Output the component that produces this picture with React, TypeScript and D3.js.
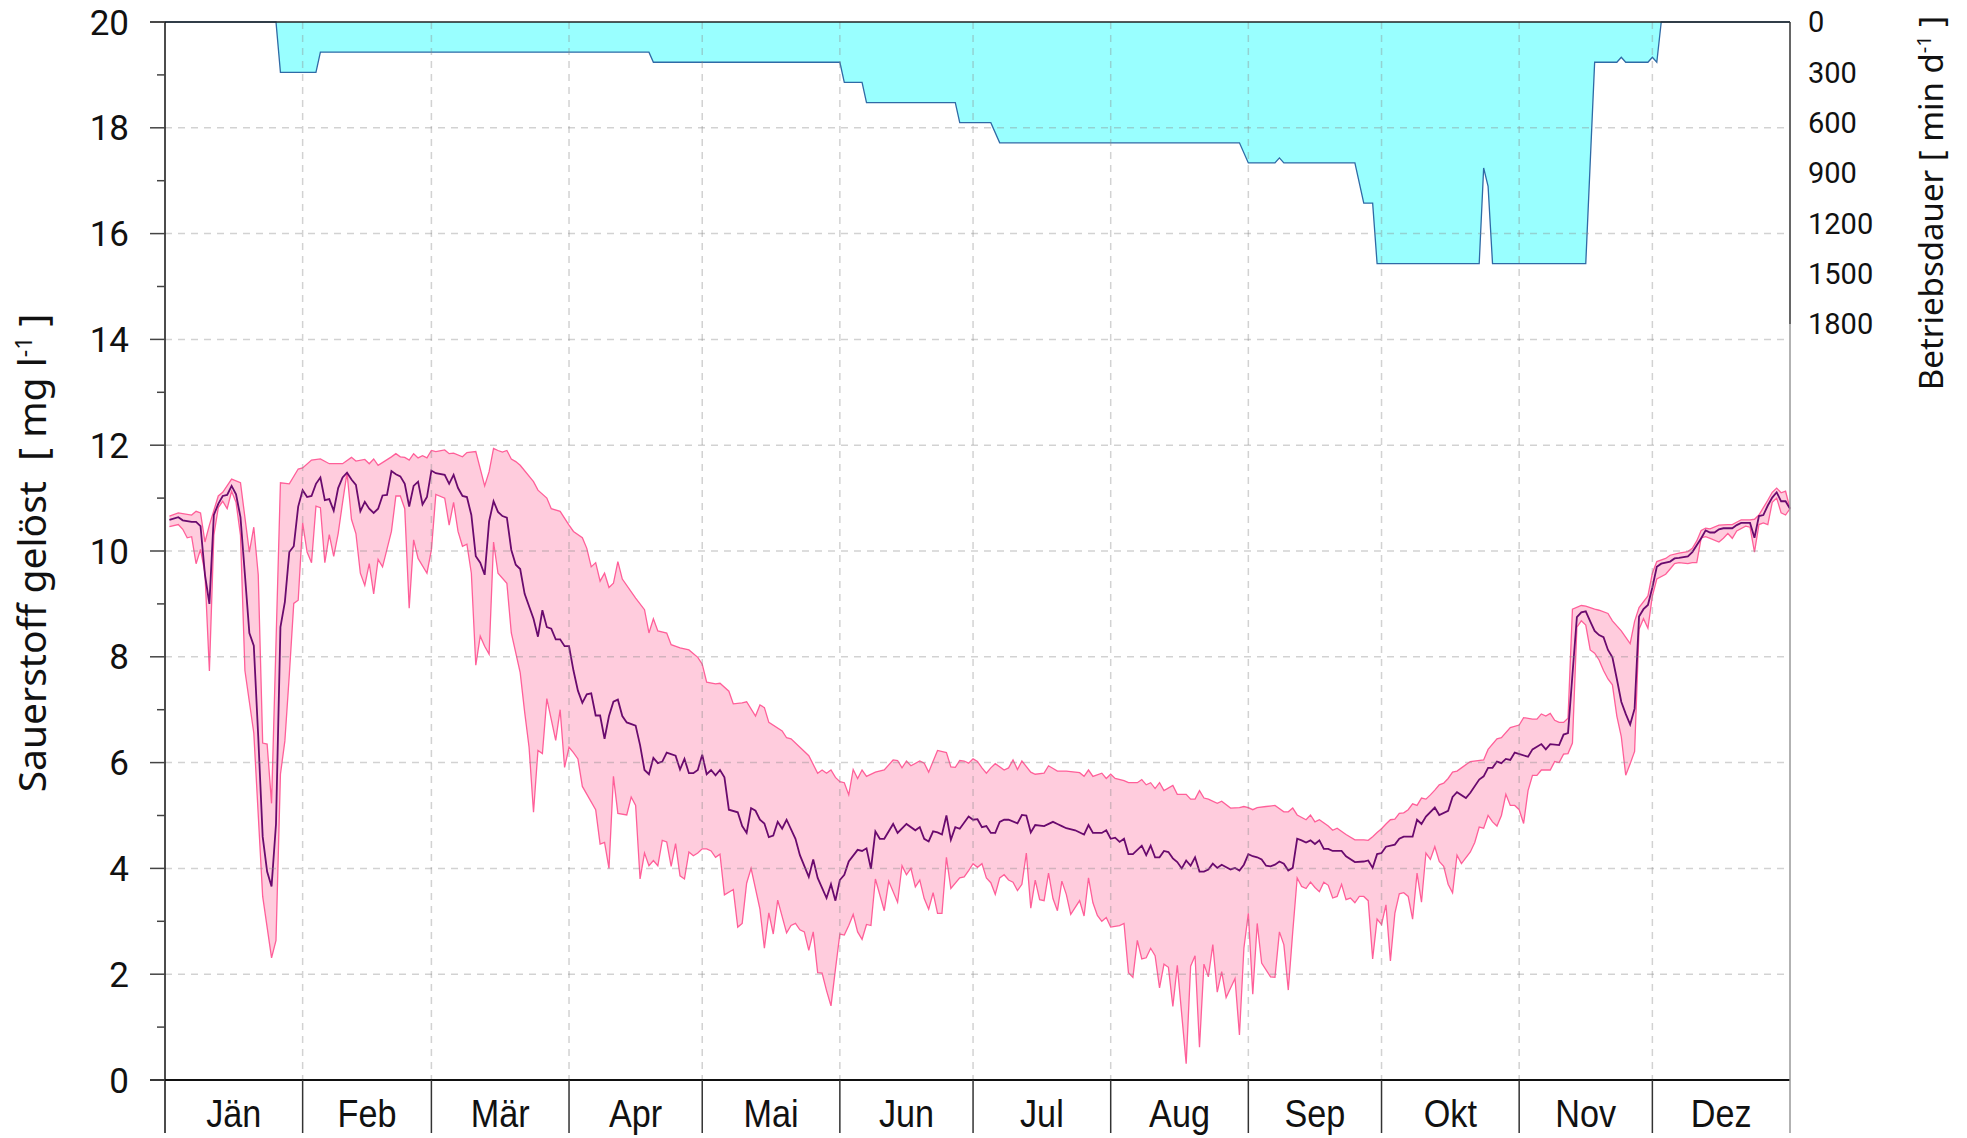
import React from 'react';
import * as d3 from 'd3';

// day of year (1..366), dissolved oxygen in mg/l
const oxygenMax: [number, number][] = [
  [1,10.66],[3,10.72],[6,10.68],[7,10.75],[8,10.72],[9,10.17],[10,10.49],[12,11.04],[13,11.11],[15,11.36],[17,11.29],[19,9.98],[20,10.45],[21,9.55],[22,6.37],[23,6.35],[24,5.23],[26,11.29],[28,11.27],[30,11.55],[31,11.57],[33,11.72],[35,11.74],[37,11.65],[40,11.65],[42,11.77],[43,11.7],[45,11.73],[46,11.65],[47,11.74],[48,11.62],[51,11.78],[52,11.84],[53,11.78],[54,11.77],[55,11.72],[56,11.84],[57,11.76],[58,11.8],[59,11.76],[60,11.9],[61,11.88],[63,11.91],[64,11.84],[65,11.85],[67,11.78],[68,11.86],[70,11.88],[72,11.23],[73,11.5],[74,11.94],[75,11.9],[76,11.87],[77,11.9],[78,11.74],[79,11.69],[80,11.62],[83,11.31],[84,11.15],[86,11.0],[87,10.8],[89,10.75],[91,10.49],[92,10.37],[94,10.25],[95,10.05],[96,9.7],[97,9.78],[98,9.43],[99,9.58],[100,9.31],[101,9.39],[102,9.8],[103,9.47],[106,9.11],[108,8.89],[109,8.45],[110,8.72],[111,8.49],[113,8.45],[114,8.23],[116,8.17],[118,8.13],[120,7.99],[121,7.86],[122,7.52],[124,7.49],[125,7.5],[127,7.35],[128,7.11],[130,7.13],[131,7.15],[133,6.88],[134,7.09],[135,7.04],[136,6.76],[139,6.6],[140,6.47],[141,6.45],[143,6.29],[145,6.13],[147,5.8],[148,5.86],[149,5.8],[150,5.86],[151,5.72],[152,5.64],[153,5.62],[154,5.39],[155,5.87],[156,5.7],[157,5.86],[158,5.74],[160,5.82],[162,5.86],[164,6.05],[165,6.04],[166,5.9],[167,6.03],[168,5.94],[170,6.03],[171,5.99],[172,5.82],[174,6.23],[176,6.19],[177,5.92],[178,5.91],[179,6.04],[180,6.03],[181,5.99],[182,6.07],[183,6.02],[184,5.9],[185,5.8],[186,5.9],[187,5.98],[189,5.86],[190,5.9],[191,6.05],[192,5.87],[193,6.03],[195,5.82],[196,5.78],[198,5.8],[199,5.94],[201,5.84],[203,5.84],[206,5.81],[207,5.74],[208,5.86],[209,5.74],[211,5.8],[212,5.7],[213,5.78],[214,5.7],[216,5.66],[217,5.62],[219,5.62],[220,5.68],[221,5.58],[222,5.62],[223,5.51],[224,5.62],[225,5.47],[227,5.57],[228,5.4],[230,5.4],[231,5.31],[232,5.31],[233,5.47],[234,5.33],[235,5.31],[237,5.23],[238,5.27],[240,5.14],[242,5.15],[243,5.17],[244,5.15],[245,5.11],[246,5.15],[248,5.17],[250,5.19],[252,5.07],[253,5.07],[254,5.14],[255,5.01],[257,4.92],[258,5.01],[259,4.88],[260,4.92],[262,4.8],[263,4.72],[264,4.76],[266,4.64],[268,4.54],[270,4.54],[271,4.53],[272,4.6],[273,4.68],[274,4.75],[275,4.84],[276,4.92],[277,4.93],[278,5.04],[279,5.05],[280,5.11],[281,5.22],[282,5.19],[283,5.33],[284,5.31],[285,5.39],[286,5.48],[287,5.58],[288,5.61],[289,5.7],[290,5.82],[291,5.84],[292,5.9],[294,6.02],[297,6.05],[298,6.25],[300,6.45],[301,6.47],[303,6.66],[305,6.71],[306,6.85],[308,6.82],[309,6.82],[310,6.92],[311,6.88],[312,6.93],[313,6.8],[314,6.76],[315,6.76],[316,6.84],[317,8.9],[319,8.97],[320,8.96],[322,8.9],[323,8.88],[325,8.82],[326,8.68],[328,8.49],[330,8.25],[331,8.67],[332,8.93],[334,9.15],[335,9.58],[336,9.8],[338,9.86],[339,9.92],[341,9.96],[343,9.99],[344,10.05],[345,10.19],[346,10.39],[347,10.43],[348,10.42],[350,10.49],[352,10.5],[353,10.5],[355,10.59],[357,10.59],[358,10.6],[359,10.68],[361,10.96],[362,11.11],[363,11.19],[364,11.1],[365,11.13],[366,10.8],
];

const oxygenMean: [number, number][] = [
  [1,10.59],[3,10.64],[4,10.58],[6,10.55],[7,10.55],[8,10.47],[9,9.55],[10,9.0],[11,10.68],[12,10.89],[13,11.04],[14,11.06],[15,11.23],[16,11.07],[17,10.64],[18,9.55],[19,8.45],[20,8.21],[21,6.49],[22,4.6],[23,3.94],[24,3.66],[25,4.84],[26,8.56],[27,9.04],[28,9.98],[29,10.09],[30,10.84],[31,11.15],[32,11.02],[33,11.04],[34,11.27],[35,11.39],[36,10.96],[37,10.98],[38,10.76],[39,11.19],[40,11.39],[41,11.48],[42,11.35],[43,11.25],[44,10.75],[45,10.93],[46,10.8],[47,10.72],[48,10.8],[49,11.05],[50,11.06],[51,11.51],[52,11.45],[53,11.41],[54,11.27],[55,10.84],[56,11.23],[57,11.31],[58,10.88],[59,11.02],[60,11.52],[61,11.47],[63,11.44],[64,11.27],[65,11.44],[66,11.19],[67,11.04],[68,11.02],[69,10.68],[70,9.9],[71,9.78],[72,9.55],[73,10.56],[74,10.94],[75,10.74],[76,10.66],[77,10.63],[78,10.02],[79,9.74],[80,9.66],[81,9.19],[83,8.72],[84,8.38],[85,8.88],[86,8.56],[87,8.53],[88,8.33],[89,8.33],[90,8.2],[91,8.2],[92,7.74],[93,7.36],[94,7.13],[95,7.29],[96,7.31],[97,6.89],[98,6.89],[99,6.45],[100,6.88],[101,7.15],[102,7.19],[103,6.88],[104,6.76],[106,6.7],[107,6.33],[108,5.86],[109,5.78],[110,6.09],[111,5.99],[112,6.02],[113,6.19],[115,6.13],[116,5.87],[117,6.07],[118,5.8],[119,5.8],[120,5.86],[121,6.15],[122,5.78],[123,5.86],[124,5.76],[125,5.86],[126,5.72],[127,5.11],[129,5.06],[130,4.8],[131,4.67],[132,5.14],[133,5.09],[134,4.92],[135,4.85],[136,4.59],[137,4.62],[138,4.88],[139,4.75],[140,4.92],[142,4.56],[143,4.25],[145,3.84],[146,4.17],[147,3.82],[149,3.44],[150,3.7],[151,3.39],[152,3.78],[153,3.88],[154,4.13],[156,4.35],[157,4.33],[158,4.38],[159,3.99],[160,4.7],[161,4.56],[162,4.56],[164,4.84],[165,4.67],[167,4.84],[169,4.72],[170,4.78],[171,4.56],[172,4.51],[173,4.7],[174,4.68],[175,4.64],[176,5.0],[177,4.54],[178,4.78],[179,4.75],[181,4.98],[182,4.92],[183,4.93],[184,4.78],[185,4.8],[186,4.67],[187,4.67],[188,4.88],[189,4.92],[190,4.92],[192,4.85],[193,5.01],[194,5.0],[195,4.68],[196,4.82],[198,4.8],[200,4.88],[201,4.84],[202,4.8],[203,4.76],[205,4.72],[207,4.64],[208,4.82],[209,4.67],[211,4.67],[212,4.72],[213,4.56],[214,4.58],[215,4.5],[216,4.56],[217,4.27],[218,4.27],[220,4.43],[221,4.25],[222,4.43],[223,4.21],[224,4.21],[225,4.33],[226,4.31],[227,4.19],[228,4.12],[229,4.0],[230,4.15],[231,4.05],[232,4.21],[233,3.94],[234,3.94],[235,3.98],[236,4.09],[237,4.01],[238,4.07],[240,3.98],[241,4.01],[242,3.96],[243,4.07],[244,4.27],[245,4.23],[246,4.21],[247,4.17],[248,4.05],[249,4.04],[250,4.07],[251,4.13],[252,4.09],[253,3.96],[254,4.01],[255,4.56],[256,4.53],[257,4.49],[258,4.53],[259,4.46],[260,4.53],[261,4.37],[262,4.37],[263,4.33],[265,4.33],[266,4.23],[268,4.12],[270,4.13],[271,4.15],[272,4.01],[273,4.27],[274,4.29],[275,4.41],[277,4.45],[278,4.56],[279,4.6],[281,4.6],[282,4.92],[283,4.84],[284,4.98],[286,5.15],[287,5.01],[289,5.09],[290,5.35],[291,5.44],[293,5.33],[294,5.43],[296,5.68],[297,5.74],[298,5.9],[299,5.9],[300,6.02],[301,5.99],[302,6.07],[303,6.05],[304,6.19],[307,6.11],[308,6.25],[310,6.35],[311,6.25],[312,6.35],[314,6.33],[315,6.53],[316,6.56],[317,7.66],[318,8.75],[319,8.84],[320,8.86],[321,8.67],[322,8.49],[323,8.41],[324,8.37],[325,8.13],[326,7.99],[327,7.58],[328,7.15],[329,6.92],[330,6.72],[331,7.02],[332,8.76],[333,8.9],[334,8.98],[335,9.31],[336,9.7],[337,9.76],[339,9.8],[340,9.86],[341,9.87],[343,9.9],[344,9.98],[346,10.24],[347,10.39],[348,10.35],[349,10.35],[350,10.41],[351,10.43],[353,10.43],[354,10.49],[355,10.53],[357,10.53],[358,10.25],[359,10.66],[360,10.68],[361,10.86],[362,11.01],[363,11.11],[364,10.94],[365,10.94],[366,10.8],
];

const oxygenMin: [number, number][] = [
  [1,10.46],[3,10.5],[4,10.41],[5,10.25],[6,10.27],[7,9.76],[8,10.03],[9,9.58],[10,7.73],[11,10.3],[12,10.82],[13,10.94],[14,10.8],[15,11.13],[16,10.92],[17,10.3],[18,7.74],[20,6.56],[22,3.47],[24,2.31],[25,2.64],[26,5.78],[27,6.41],[28,7.66],[29,9.01],[30,9.07],[31,10.53],[32,9.98],[33,9.78],[34,10.85],[35,10.82],[36,9.78],[37,10.31],[38,9.9],[39,10.33],[40,10.92],[41,11.48],[42,10.6],[43,10.33],[44,9.58],[45,9.35],[46,9.76],[47,9.19],[48,9.84],[49,9.7],[51,10.37],[52,11.04],[53,11.04],[54,10.8],[55,8.92],[56,10.21],[57,9.86],[59,9.58],[60,10.02],[61,11.07],[63,11.0],[64,10.49],[65,10.92],[66,10.37],[67,10.09],[68,10.13],[69,9.58],[70,7.84],[71,8.39],[72,8.2],[73,8.05],[74,10.17],[75,9.58],[77,9.39],[78,8.45],[80,7.7],[81,6.96],[82,6.29],[83,5.06],[84,6.23],[85,6.17],[86,7.21],[88,6.42],[89,7.0],[90,5.91],[91,6.29],[92,6.19],[93,6.07],[94,5.55],[97,5.11],[98,4.46],[99,4.49],[100,4.0],[101,5.74],[102,5.04],[104,5.01],[105,5.35],[106,5.19],[107,3.8],[108,4.29],[109,4.05],[110,4.15],[111,4.05],[112,4.53],[113,4.5],[114,4.04],[115,4.47],[116,3.86],[117,3.8],[118,4.31],[119,4.24],[120,4.29],[121,4.37],[122,4.37],[123,4.33],[124,4.21],[125,4.27],[126,3.5],[128,3.6],[129,2.89],[130,2.96],[131,3.72],[132,4.0],[134,3.23],[135,2.49],[136,3.16],[137,2.76],[138,3.4],[140,2.78],[141,2.92],[142,2.96],[143,2.84],[144,2.8],[145,2.45],[146,2.8],[147,2.03],[148,2.02],[149,1.69],[150,1.4],[151,2.09],[152,2.76],[153,2.74],[154,2.92],[155,3.13],[156,2.8],[157,2.66],[158,2.94],[159,2.92],[160,3.8],[162,3.2],[163,3.76],[165,3.36],[166,4.05],[167,3.88],[168,4.0],[169,3.65],[170,3.78],[171,3.43],[172,3.23],[173,3.54],[174,3.15],[175,3.15],[176,4.21],[177,3.62],[179,3.82],[180,3.84],[181,3.96],[182,4.09],[183,4.02],[184,4.09],[185,3.82],[186,3.73],[187,3.51],[188,3.82],[189,3.88],[190,3.78],[191,3.74],[192,3.58],[193,3.7],[194,4.29],[195,3.25],[196,3.78],[197,3.41],[198,3.39],[199,3.91],[200,3.43],[201,3.2],[202,3.76],[203,3.51],[204,3.13],[206,3.39],[207,3.1],[208,3.82],[209,3.35],[210,3.11],[211,3.0],[212,3.07],[213,2.89],[215,2.92],[216,2.96],[217,2.03],[218,1.94],[219,2.64],[220,2.29],[221,2.31],[222,2.49],[223,2.35],[224,1.74],[225,2.19],[226,2.13],[227,1.39],[228,2.17],[230,0.31],[231,2.15],[232,2.35],[233,0.62],[234,2.19],[235,1.95],[236,2.56],[237,1.66],[238,2.05],[239,1.56],[241,1.92],[242,0.85],[243,2.49],[244,3.15],[245,1.62],[246,2.96],[247,2.21],[249,1.95],[250,1.94],[251,2.8],[252,2.56],[253,1.7],[254,2.8],[255,3.82],[256,3.66],[257,3.62],[258,3.74],[259,3.64],[260,3.56],[261,3.74],[262,3.68],[263,3.44],[264,3.47],[265,3.7],[266,3.41],[267,3.44],[268,3.35],[269,3.47],[270,3.47],[271,3.39],[272,2.29],[273,3.04],[274,2.94],[275,3.31],[276,2.25],[277,3.15],[278,3.52],[279,3.54],[280,3.47],[281,3.04],[282,3.91],[283,3.36],[284,4.29],[285,4.17],[286,4.41],[287,4.13],[288,4.04],[289,3.7],[290,3.54],[291,4.25],[292,4.09],[294,4.31],[295,4.49],[296,4.78],[297,4.76],[298,5.0],[299,4.88],[300,4.8],[301,5.0],[302,5.4],[303,5.19],[304,5.19],[305,5.11],[306,4.85],[307,5.47],[308,5.76],[309,5.76],[310,5.86],[312,5.86],[313,6.02],[314,6.0],[315,6.16],[316,6.17],[317,6.37],[318,8.56],[319,8.68],[320,8.6],[321,8.13],[322,8.07],[323,7.94],[324,7.74],[325,7.58],[326,7.47],[327,6.88],[328,6.49],[329,5.76],[330,5.98],[331,6.21],[332,8.52],[333,8.72],[334,8.54],[335,9.15],[336,9.47],[338,9.56],[339,9.66],[340,9.76],[341,9.78],[343,9.76],[344,9.78],[345,9.78],[346,10.25],[347,10.27],[348,10.24],[350,10.17],[351,10.24],[352,10.33],[353,10.24],[354,10.38],[356,10.47],[357,10.45],[358,9.98],[359,10.5],[360,10.53],[361,10.5],[362,10.92],[363,11.0],[364,10.72],[365,10.68],[366,10.8],
];

// Betriebsdauer in min per day (right axis, drawn downwards from the top)
const runtime: [number, number][] = [
  [0,0],[25,0],[26,300],[34,300],[35,180],[109,180],[110,240],[152,240],[153,360],[157,360],[158,480],[178,480],[179,600],[186,600],[188,720],[242,720],[244,840],[250,840],[251,810],[252,840],[268,840],[270,1080],[272,1080],[273,1440],[296,1440],[297,870],[298,980],[299,1440],[320,1440],[322,240],[327,240],[328,210],[329,240],[334,240],[335,210],[336,240],[337,0],[366,0],
];

const monthNames = ['Jän', 'Feb', 'Mär', 'Apr', 'Mai', 'Jun', 'Jul', 'Aug', 'Sep', 'Okt', 'Nov', 'Dez'];
const monthStarts = [0, 31, 60, 91, 121, 152, 182, 213, 244, 274, 305, 335, 366];
const leftTicks = [0, 2, 4, 6, 8, 10, 12, 14, 16, 18, 20];
const leftMinor = [1, 3, 5, 7, 9, 11, 13, 15, 17, 19];
const rightTicks = [0, 300, 600, 900, 1200, 1500, 1800];

const W = 1967;
const H = 1138;
const left = 165, right = 1790, top = 22, bottom = 1080, stripBottom = 1133;

const titleFont = "'Noto Sans', 'Open Sans', sans-serif";
const numFont = "Roboto, 'Noto Sans', sans-serif";
const monthFont = "'Liberation Sans', Arial, sans-serif";

export default function App() {
  const x = d3.scaleLinear().domain([0, 366]).range([left, right]);
  const y = d3.scaleLinear().domain([0, 20]).range([bottom, top]);
  const yR = d3.scaleLinear().domain([0, 1800]).range([top, 324]);

  const line = d3.line<[number, number]>().x(d => x(d[0])).y(d => y(d[1]));
  const band = line([...oxygenMax, ...oxygenMin.slice().reverse()]) + 'Z';

  const rtArea = d3.area<[number, number]>().x(d => x(d[0])).y0(yR(0)).y1(d => yR(d[1]));
  const rtLine = d3.line<[number, number]>().x(d => x(d[0])).y(d => yR(d[1]));

  const gridStyle = { stroke: '#8a8a8a', strokeOpacity: 0.38, strokeWidth: 1.5, strokeDasharray: '7 6' };

  return (
    <svg width={W} height={H} style={{ position: 'absolute', left: 0, top: 0, background: '#fff' }}>
      {/* runtime area */}
      <path d={rtArea(runtime) || ''} fill="#99ffff" />
      <path d={rtLine(runtime) || ''} fill="none" stroke="#2f6aa6" strokeWidth={1.3} />

      {/* oxygen band */}
      <path d={band} fill="#ffccdd" />
      <path d={line(oxygenMax) || ''} fill="none" stroke="#ff5f99" strokeWidth={1.3} />
      <path d={line(oxygenMin) || ''} fill="none" stroke="#ff5f99" strokeWidth={1.3} />
      <path d={line(oxygenMean) || ''} fill="none" stroke="#6a0a6e" strokeWidth={1.8} />

      {/* grid */}
      {leftTicks.filter(v => v > 0 && v < 20).map(v => (
        <line key={'gy' + v} x1={left} x2={right} y1={y(v)} y2={y(v)} style={gridStyle} />
      ))}
      {monthStarts.slice(1, 12).map(d => (
        <line key={'gx' + d} x1={x(d)} x2={x(d)} y1={top} y2={bottom} style={gridStyle} />
      ))}

      {/* frame */}
      <line x1={150} x2={right} y1={top} y2={top} stroke="#222" strokeWidth={1.5} />
      <line x1={150} x2={right} y1={bottom} y2={bottom} stroke="#111" strokeWidth={2} />
      <line x1={left} x2={left} y1={top} y2={stripBottom} stroke="#111" strokeWidth={1.5} />
      <line x1={right} x2={right} y1={top} y2={yR(1800)} stroke="#333" strokeWidth={1.5} />
      <line x1={right} x2={right} y1={yR(1800)} y2={stripBottom} stroke="#999" strokeWidth={1.5} />

      {/* left ticks */}
      {leftTicks.map(v => (
        <g key={'lt' + v}>
          <line x1={150} x2={left} y1={y(v)} y2={y(v)} stroke="#444" strokeWidth={1.5} />
          <text x={129} y={y(v)} dy="0.36em" textAnchor="end" fontFamily={numFont} fontSize={35} fill="#111">{v}</text>
        </g>
      ))}
      {leftMinor.map(v => (
        <line key={'lm' + v} x1={157} x2={left} y1={y(v)} y2={y(v)} stroke="#444" strokeWidth={1.5} />
      ))}

      {/* right labels */}
      {rightTicks.map(v => (
        <text key={'rt' + v} x={1808} y={yR(v)} dy="0.36em" fontFamily={numFont} fontSize={29} fill="#111">{v}</text>
      ))}

      {/* month strip */}
      {monthStarts.slice(1, 12).map(d => (
        <line key={'ms' + d} x1={x(d)} x2={x(d)} y1={bottom} y2={stripBottom} stroke="#333" strokeWidth={1.5} />
      ))}
      {monthNames.map((m, i) => (
        <text key={m} transform={`translate(${(x(monthStarts[i]) + x(monthStarts[i + 1])) / 2},1127) scale(0.9,1)`}
          textAnchor="middle" fontFamily={monthFont} fontSize={38} fill="#111">{m}</text>
      ))}

      {/* axis titles */}
      <text transform="translate(46,553) rotate(-90)" textAnchor="middle" fontFamily={titleFont} fontSize={39} fill="#111"
        style={{ whiteSpace: 'pre' }}>
        {'Sauerstoff gelöst  [ mg l'}<tspan dy={-14} fontSize={23}>-1</tspan><tspan dy={14}>{' ]'}</tspan>
      </text>
      <text transform="translate(1943,203) rotate(-90)" textAnchor="middle" fontFamily={titleFont} fontSize={33} fill="#111"
        style={{ whiteSpace: 'pre' }}>
        {'Betriebsdauer [ min d'}<tspan dy={-12} fontSize={20}>-1</tspan><tspan dy={12}>{' ]'}</tspan>
      </text>
    </svg>
  );
}
